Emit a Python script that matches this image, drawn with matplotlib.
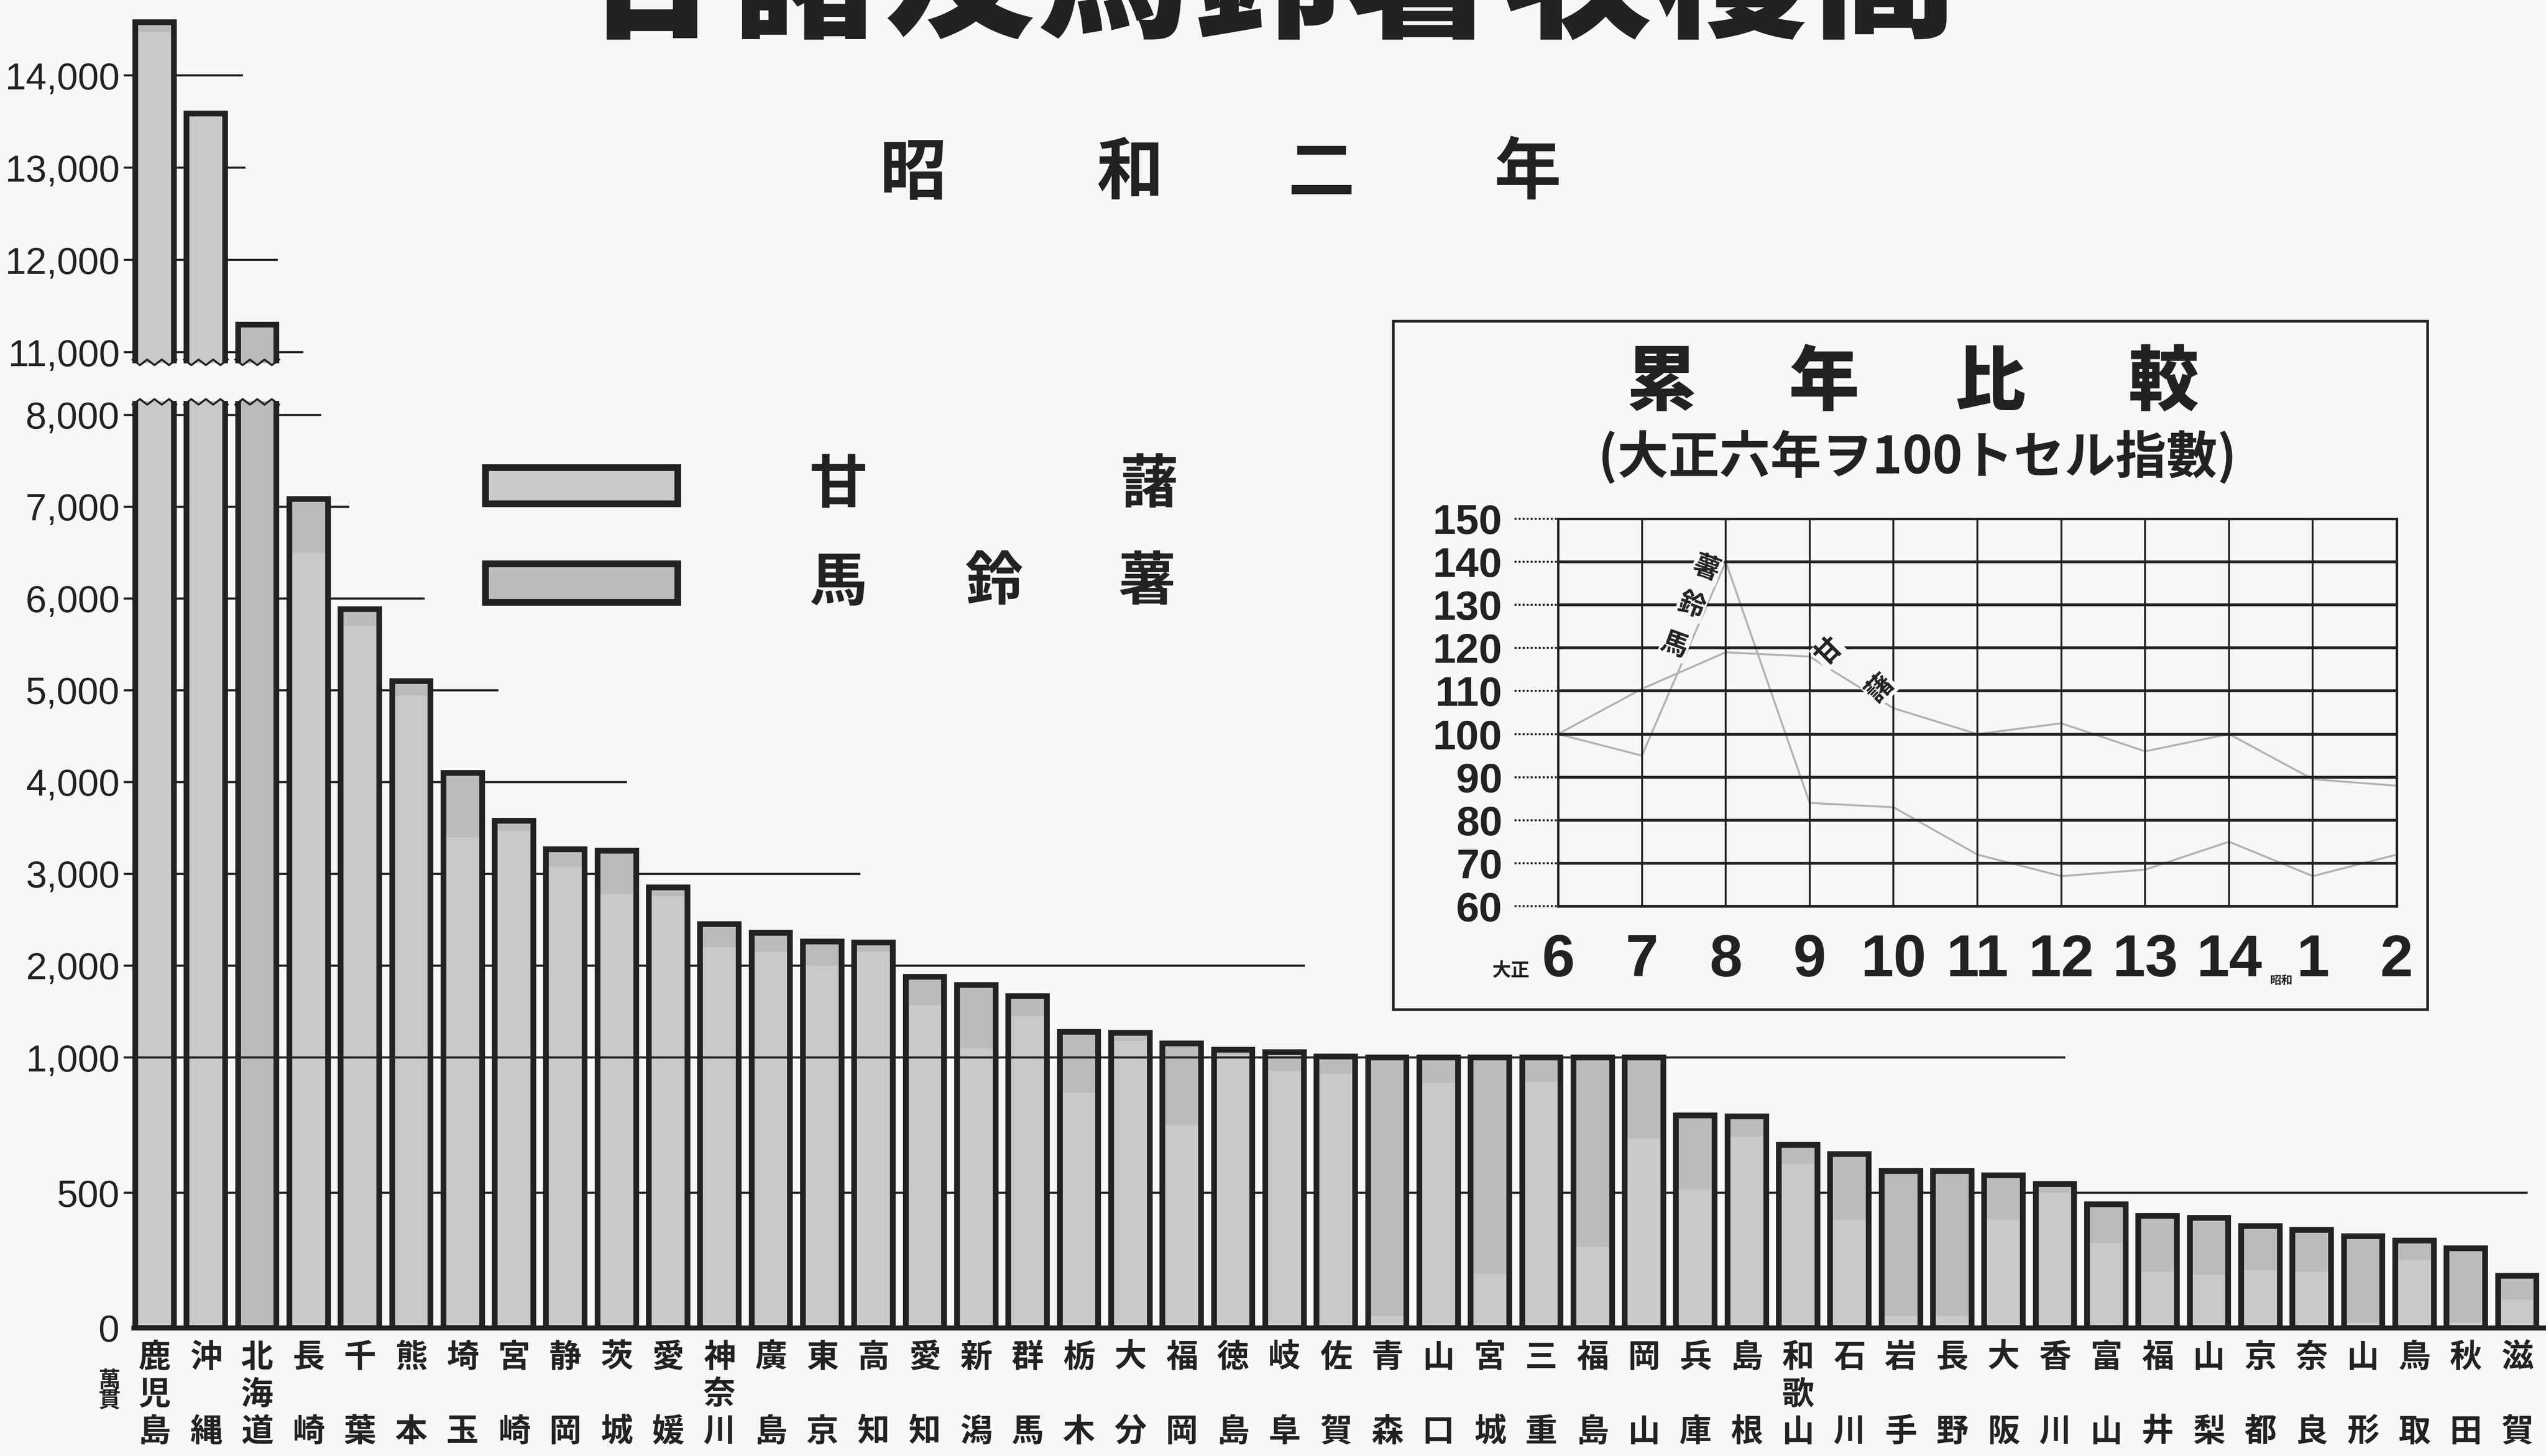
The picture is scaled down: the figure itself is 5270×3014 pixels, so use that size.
import numpy as np
import matplotlib
matplotlib.use("Agg")
import matplotlib.pyplot as plt
from matplotlib import transforms
from matplotlib.patches import Rectangle

plt.rcParams['font.family'] = ['Noto Sans CJK JP', 'DejaVu Sans']

# 府県別 収穫高 (単位 萬貫), 昭和二年
prefs = ['鹿児島', '沖縄', '北海道', '長崎', '千葉', '熊本', '埼玉', '宮崎', '静岡', '茨城',
         '愛媛', '神奈川', '廣島', '東京', '高知', '愛知', '新潟', '群馬', '栃木', '大分',
         '福岡', '徳島', '岐阜', '佐賀', '青森', '山口', '宮城', '三重', '福島', '岡山',
         '兵庫', '島根', '和歌山', '石川', '岩手', '長野', '大阪', '香川', '富山', '福井',
         '山梨', '京都', '奈良', '山形', '鳥取', '秋田', '滋賀']
kansho = [14470, 13560, 0, 6500, 5700, 4940, 3400, 3470, 3080, 2780,
          2760, 2200, 2150, 2000, 2150, 1570, 1100, 1450, 870, 1180,
          750, 1030, 950, 940, 45, 905, 200, 910, 300, 700,
          510, 708, 608, 400, 45, 45, 400, 500, 314, 209,
          197, 215, 209, 20, 250, 20, 106]
bareisho = [110, 30, 11300, 580, 180, 160, 700, 110, 190, 470,
            90, 250, 210, 265, 100, 310, 690, 220, 410, 90,
            405, 55, 110, 70, 955, 95, 800, 90, 700, 300,
            275, 75, 68, 243, 535, 535, 165, 32, 144, 206,
            211, 162, 154, 319, 73, 274, 87]

lo_ticks = [0, 500, 1000, 2000, 3000, 4000, 5000, 6000, 7000, 8000]
lo_labels = ['0', '500', '1,000', '2,000', '3,000', '4,000', '5,000', '6,000', '7,000', '8,000']
hi_ticks = [11000, 12000, 13000, 14000]
hi_labels = ['11,000', '12,000', '13,000', '14,000']

# 累年比較 (大正六年ヲ100トセル指數)
years = ['6', '7', '8', '9', '10', '11', '12', '13', '14', '1', '2']
idx_kansho = [100, 110.5, 119, 118, 106, 100, 102.5, 96, 100, 89.5, 88]
idx_bareisho = [100, 95, 140, 84, 83, 72, 67, 68.5, 75, 67, 72]
idx_ticks = [60, 70, 80, 90, 100, 110, 120, 130, 140, 150]

W, H = 5270, 3014
def fx(px):
    return px / W
def fy(py):
    return 1 - py / H

bg = '#f7f7f6'
dark = '#222222'
c_kan = '#c9c9c9'
c_bar = '#bbbbbb'
num_font = ['Liberation Sans', 'DejaVu Sans']

fig = plt.figure(figsize=(W / 100, H / 100), dpi=100, facecolor=bg)

x = np.arange(len(prefs))
kansho = np.array(kansho)
bareisho = np.array(bareisho)
total = kansho + bareisho

# broken value axis: stretched 0-1000 part
k = 560 / 190.1
def fwd(v):
    v = np.asarray(v, dtype=float)
    return np.where(v <= 1000, v * k, v + 1000 * k - 1000)
def inv(y):
    y = np.asarray(y, dtype=float)
    return np.where(y <= 1000 * k, y / k, y - 1000 * k + 1000)

xl = (-0.6, 46.56)
ax_lo = fig.add_axes([fx(256), fy(2749), fx(5270) - fx(256), fy(830) - fy(2749)])
ax_hi = fig.add_axes([fx(256), fy(752), fx(5270) - fx(256), fy(38) - fy(752)])
ax_lo.set_yscale('function', functions=(fwd, inv))
ax_lo.set_ylim(0, 8150)
ax_hi.set_ylim(10880, 14620)

bw = 0.75
for ax in (ax_lo, ax_hi):
    ax.set_facecolor('none')
    ax.set_xlim(*xl)
    ax.bar(x, kansho, width=bw, color=c_kan, linewidth=0, zorder=2)
    ax.bar(x, bareisho, bottom=kansho, width=bw, color=c_bar, linewidth=0, zorder=2)
    ax.bar(x, total, width=bw, fill=False, edgecolor=dark, linewidth=8.5, zorder=3)
    for s in ax.spines.values():
        s.set_visible(False)
    ax.set_xticks([])
    ax.tick_params(axis='y', length=0, pad=6, labelsize=56, labelcolor=dark)

ax_lo.set_yticks(lo_ticks, lo_labels)
ax_hi.set_yticks(hi_ticks, hi_labels)
for lab in ax_lo.get_yticklabels() + ax_hi.get_yticklabels():
    lab.set_family(num_font)

# leader lines from the scale
ends = {500: 46.2, 1000: 37.2, 2000: 22.4, 3000: 13.74, 4000: 9.2, 5000: 6.7,
        6000: 5.26, 7000: 3.79, 8000: 3.25, 11000: 2.9, 12000: 2.4, 13000: 1.77, 14000: 1.72}
for t in lo_ticks[1:]:
    z = 5 if t == 1000 else 1
    ax_lo.hlines(t, xl[0], ends[t], color=dark, lw=3.2, zorder=z)
for t in hi_ticks:
    ax_hi.hlines(t, xl[0], ends[t], color=dark, lw=3.2, zorder=1)
ax_lo.hlines(0, -0.45, xl[1], color=dark, lw=7.5, zorder=6, clip_on=False)

# break marks on the tall bars
jag = np.array([0, 1, 0, 1, 0, 1, 0])
for i in x[total > 8150]:
    xs = np.linspace(i - bw / 2 - 0.05, i + bw / 2 + 0.05, len(jag))
    ax_lo.plot(xs, 8110 + 60 * jag, color=dark, lw=3, zorder=4, clip_on=False)
    ax_hi.plot(xs, 10920 - 60 * jag, color=dark, lw=3, zorder=4, clip_on=False)

# prefecture names, written vertically
trans = transforms.blended_transform_factory(ax_lo.transData, fig.transFigure)
rows = [2810, 2887, 2964]
for i, name in enumerate(prefs):
    slots = [0, 2] if len(name) == 2 else [0, 1, 2]
    for ch, r in zip(name, slots):
        ax_lo.text(i, fy(rows[r]), ch, transform=trans, ha='center', va='center',
                   fontsize=48, fontweight='bold', color=dark)
fig.text(fx(226), fy(2880), '萬\n貫', ha='center', va='center', fontsize=33,
         linespacing=0.85, fontweight='bold', color=dark)

# titles
title = '甘藷及馬鈴薯收穫高'
for j, ch in enumerate(title):
    fig.text(fx(1348 + 319 * j), fy(-40), ch, ha='center', va='center',
             fontsize=225, fontweight='heavy', color=dark)
for ch, px in zip('昭和二年', [1890, 2339, 2735, 3162]):
    fig.text(fx(px), fy(360), ch, ha='center', va='center', fontsize=100,
             fontweight='bold', color=dark)

# legend
for (top, bot), col, name, xs_ in [((968, 1043), c_kan, '甘藷', [1735, 2380]),
                                   ((1167, 1247), c_bar, '馬鈴薯', [1735, 2057, 2374])]:
    fig.add_artist(Rectangle((fx(1005), fy(bot)), fx(1403) - fx(1005), fy(top) - fy(bot),
                             transform=fig.transFigure, facecolor=col, edgecolor=dark, lw=10))
    for ch, px in zip(name, xs_):
        fig.text(fx(px), fy((top + bot) / 2), ch, ha='center', va='center', fontsize=86,
                 fontweight='bold', color=dark)

# inset: 累年比較
fig.add_artist(Rectangle((fx(2884), fy(2090)), fx(5025) - fx(2884), fy(665) - fy(2090),
                         transform=fig.transFigure, fill=False, edgecolor=dark, lw=4))
for ch, px in zip('累年比較', [3439, 3776, 4120, 4478]):
    fig.text(fx(px), fy(794), ch, ha='center', va='center', fontsize=105,
             fontweight='heavy', color=dark)
fig.text(fx(3969), fy(947), '(大正六年ヲ100トセル指數)', ha='center', va='center',
         fontsize=76, fontweight='bold', color=dark)

ax_in = fig.add_axes([fx(3225), fy(1876), fx(4961) - fx(3225), fy(1074) - fy(1876)])
ax_in.set_facecolor('none')
xi = np.arange(len(years))
ax_in.plot(xi, idx_kansho, color='#b3b3b3', lw=3, zorder=2)
ax_in.plot(xi, idx_bareisho, color='#b3b3b3', lw=3, zorder=2)
ax_in.set_xlim(0, len(years) - 1)
ax_in.set_ylim(60, 150)
ax_in.set_axisbelow(False)
ax_in.set_yticks(idx_ticks, [str(t) for t in idx_ticks])
ax_in.set_xticks(xi, years)
ax_in.yaxis.grid(True, color=dark, lw=4.2)
ax_in.xaxis.grid(True, color=dark, lw=2.8)
for s in ax_in.spines.values():
    s.set_color(dark)
    s.set_linewidth(3.5)
ax_in.tick_params(axis='y', length=0, pad=83, labelsize=62, labelcolor=dark)
ax_in.tick_params(axis='x', length=0, pad=40, labelsize=88, labelcolor=dark)
for lab in ax_in.get_yticklabels() + ax_in.get_xticklabels():
    lab.set_family(num_font)
    lab.set_fontweight('bold')
ax_in.hlines(idx_ticks, -0.52, 0, colors=dark, lw=3, linestyles=(0, (1, 1)), clip_on=False)

box = dict(facecolor=bg, edgecolor='none', pad=1)
for ch, (px, py) in zip('馬鈴薯', [(1.39, 120.6), (1.59, 129.8), (1.77, 138.5)]):
    ax_in.text(px, py, ch, ha='center', va='center', fontsize=40, rotation=-20,
               fontweight='bold', color=dark, bbox=box, zorder=5)
for ch, (px, py) in zip('甘藷', [(3.23, 119.2), (3.84, 110.7)]):
    ax_in.text(px, py, ch, ha='center', va='center', fontsize=40, rotation=45,
               fontweight='bold', color=dark, bbox=box, zorder=5)
fig.text(fx(3127), fy(2009), '大正', ha='center', va='center', fontsize=28,
         fontweight='bold', color=dark)
fig.text(fx(4722), fy(2030), '昭和', ha='center', va='center', fontsize=17,
         fontweight='bold', color=dark)

fig.savefig('out.png', dpi=100, facecolor=bg)
